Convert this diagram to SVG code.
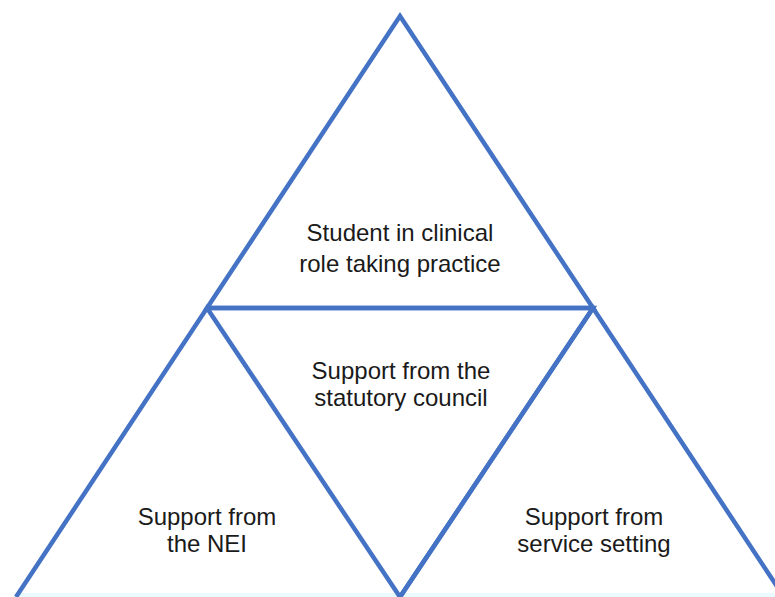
<svg xmlns="http://www.w3.org/2000/svg" width="775" height="597" viewBox="0 0 775 597">
  <style>
    .edge { fill: none; stroke: #4472C4; stroke-width: 4.5; stroke-linejoin: miter; stroke-miterlimit: 10; }
    .label { font-family: "Liberation Sans", Arial, sans-serif; font-size: 24px; fill: #1a1a1a; text-anchor: middle; }
  </style>
  <rect x="0" y="0" width="775" height="597" fill="#ffffff"/>
  <!-- pale strip along the base -->
  <rect x="16" y="593" width="759" height="4" fill="#E9FBFE"/>

  <!-- top triangle -->
  <g id="node-student">
    <path class="edge" d="M207,308 L400,16 L593,308 Z"/>
    <text class="label" x="400" y="241">Student in clinical</text>
    <text class="label" x="400" y="272">role taking practice</text>
  </g>

  <!-- centre (inverted) triangle -->
  <g id="node-council">
    <path class="edge" d="M207,308 L593,308 L400,597"/>
    <text class="label" x="401" y="379">Support from the</text>
    <text class="label" x="401" y="406">statutory council</text>
  </g>

  <!-- bottom-left triangle -->
  <g id="node-nei">
    <path class="edge" d="M16,597 L207,308 L400,597"/>
    <text class="label" x="207" y="525">Support from</text>
    <text class="label" x="207" y="552">the NEI</text>
  </g>

  <!-- bottom-right triangle -->
  <g id="node-service">
    <path class="edge" d="M400,597 L593,308 L784,597"/>
    <text class="label" x="594" y="525">Support from</text>
    <text class="label" x="594" y="552">service setting</text>
  </g>

  <g id="connectors"/>
</svg>
